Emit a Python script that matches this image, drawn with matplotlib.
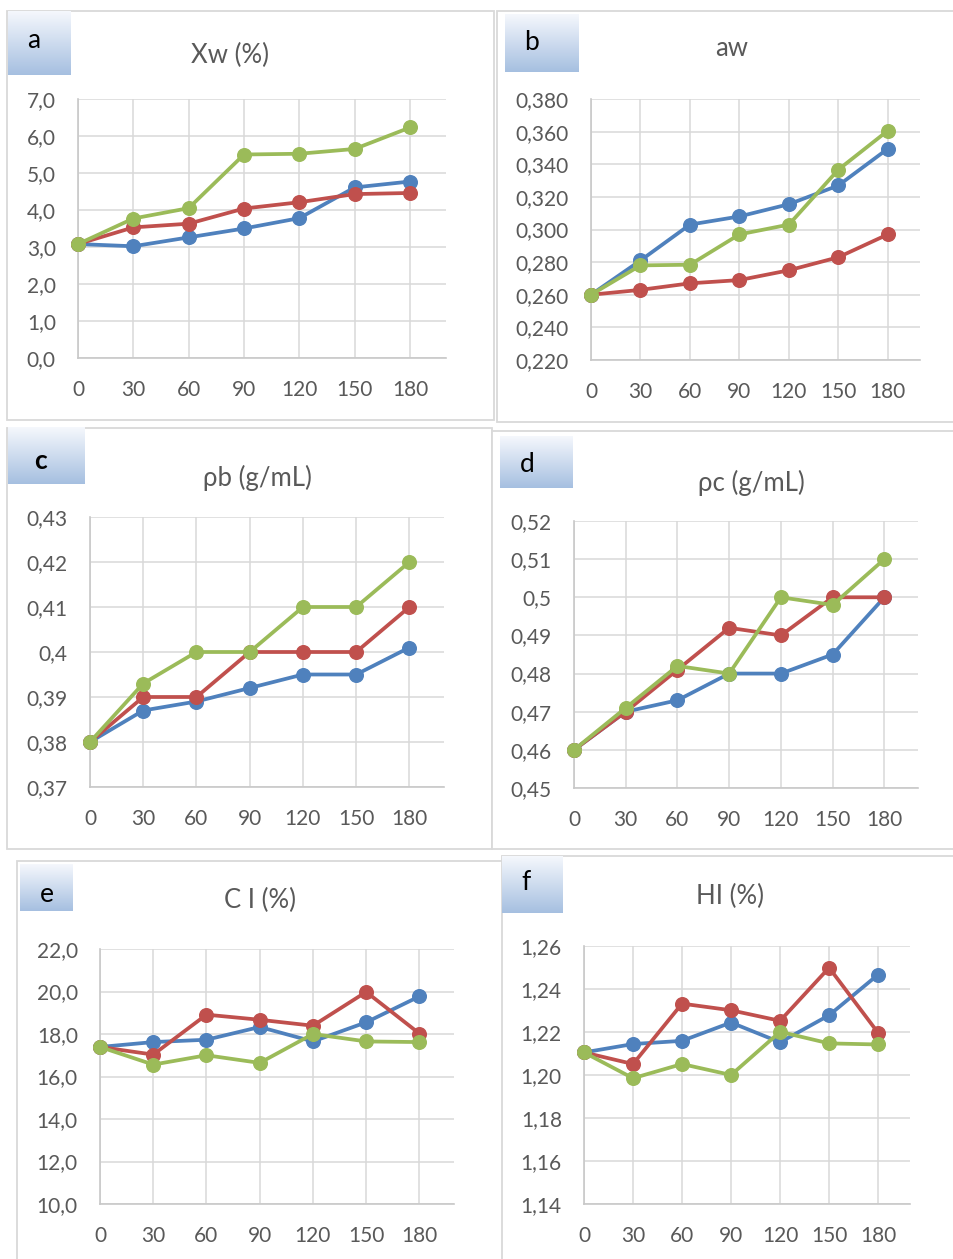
import numpy as np
import matplotlib
matplotlib.use("Agg")
import matplotlib.pyplot as plt
from matplotlib.patches import Rectangle

plt.rcParams["font.family"] = ["Lato", "DejaVu Sans"]

# ====== data ======
times = ["0", "30", "60", "90", "120", "150", "180"]

xw_blue = [3.08, 3.02, 3.26, 3.50, 3.78, 4.61, 4.77]
xw_red = [3.08, 3.53, 3.63, 4.04, 4.21, 4.43, 4.46]
xw_green = [3.08, 3.77, 4.05, 5.50, 5.52, 5.65, 6.23]

aw_blue = [0.260, 0.281, 0.303, 0.308, 0.3155, 0.327, 0.3495]
aw_red = [0.260, 0.263, 0.267, 0.269, 0.275, 0.283, 0.297]
aw_green = [0.260, 0.278, 0.2784, 0.297, 0.303, 0.3367, 0.3606]

pb_blue = [0.380, 0.387, 0.389, 0.392, 0.395, 0.395, 0.401]
pb_red = [0.380, 0.390, 0.390, 0.400, 0.400, 0.400, 0.410]
pb_green = [0.380, 0.393, 0.400, 0.400, 0.410, 0.410, 0.420]

pc_blue = [0.460, 0.470, 0.473, 0.480, 0.480, 0.485, 0.500]
pc_red = [0.460, 0.470, 0.481, 0.492, 0.490, 0.500, 0.500]
pc_green = [0.460, 0.471, 0.482, 0.480, 0.500, 0.498, 0.510]

ci_blue = [17.39, 17.62, 17.73, 18.33, 17.65, 18.55, 19.77]
ci_red = [17.39, 17.03, 18.91, 18.67, 18.39, 19.98, 18.02]
ci_green = [17.39, 16.56, 17.00, 16.64, 18.00, 17.65, 17.62]

hi_blue = [1.2105, 1.2144, 1.2159, 1.2244, 1.2152, 1.2278, 1.2467]
hi_red = [1.2105, 1.2051, 1.2332, 1.2301, 1.2252, 1.2499, 1.2196]
hi_green = [1.2105, 1.1985, 1.2051, 1.2000, 1.2201, 1.2147, 1.2142]

# y ticks + labels (comma decimals as in the original)
xw_ticks = [0, 1, 2, 3, 4, 5, 6, 7]
xw_labels = ["0,0", "1,0", "2,0", "3,0", "4,0", "5,0", "6,0", "7,0"]
aw_ticks = [0.22, 0.24, 0.26, 0.28, 0.30, 0.32, 0.34, 0.36, 0.38]
aw_labels = ["0,220", "0,240", "0,260", "0,280", "0,300", "0,320", "0,340", "0,360", "0,380"]
pb_ticks = [0.37, 0.38, 0.39, 0.40, 0.41, 0.42, 0.43]
pb_labels = ["0,37", "0,38", "0,39", "0,4", "0,41", "0,42", "0,43"]
pc_ticks = [0.45, 0.46, 0.47, 0.48, 0.49, 0.50, 0.51, 0.52]
pc_labels = ["0,45", "0,46", "0,47", "0,48", "0,49", "0,5", "0,51", "0,52"]
ci_ticks = [10, 12, 14, 16, 18, 20, 22]
ci_labels = ["10,0", "12,0", "14,0", "16,0", "18,0", "20,0", "22,0"]
hi_ticks = [1.14, 1.16, 1.18, 1.20, 1.22, 1.24, 1.26]
hi_labels = ["1,14", "1,16", "1,18", "1,20", "1,22", "1,24", "1,26"]

BLUE = "#4f81bd"
RED = "#c0504d"
GREEN = "#9bbb59"
TXT = "#595959"

W, H = 954, 1259
fig = plt.figure(figsize=(W / 100, H / 100), dpi=100)


def fbox(left, top, right, bottom):
    # pixel box -> figure fraction [l, b, w, h]
    return [left / W, 1 - bottom / H, (right - left) / W, (bottom - top) / H]


def frame(left, top, right, bottom):
    l, b, w, h = fbox(left, top, right, bottom)
    fig.patches.append(Rectangle((l, b), w, h, transform=fig.transFigure,
                                 facecolor="white", edgecolor="#d9d9d9",
                                 lw=1.3, zorder=-1))


def label_box(left, top, right, bottom, letter, tx, ty, bold=False):
    ax = fig.add_axes(fbox(left, top, right, bottom))
    grad = np.linspace(0, 1, 64).reshape(-1, 1)
    top_c = np.array([0.96, 0.97, 0.99])
    bot_c = np.array([0.65, 0.75, 0.88])
    img = top_c + grad[..., None] * (bot_c - top_c)
    img = np.repeat(img, 4, axis=1)
    ax.imshow(img, aspect="auto", extent=[0, 1, 0, 1], origin="upper")
    ax.set_axis_off()
    fig.text(tx / W, 1 - ty / H, letter, fontsize=19, color="black",
             ha="center", va="center", fontweight="bold" if bold else "normal")


def panel(box, series, ticks, labels, title, tpos):
    ax = fig.add_axes(fbox(*box))
    ax.set_zorder(2)
    x = np.arange(len(times))
    for vals, col in series:
        ax.plot(x, vals, color=col, lw=2.7, marker="o", ms=9.8,
                mec=col, mfc=col, clip_on=False, zorder=3)
    ax.set_xlim(0, 6.65)
    ax.set_ylim(ticks[0], ticks[-1])
    ax.set_xticks(x)
    ax.set_xticklabels(times)
    ax.set_yticks(ticks)
    ax.set_yticklabels(labels)
    ax.grid(True, color="#d9d9d9", lw=1.1)
    ax.set_axisbelow(True)
    for s in ["top", "right"]:
        ax.spines[s].set_visible(False)
    for s in ["left", "bottom"]:
        ax.spines[s].set_color("#c8c8c8")
        ax.spines[s].set_linewidth(1.2)
    ax.tick_params(length=0, labelsize=15, labelcolor=TXT, pad=16)
    ax.patch.set_alpha(0)
    fig.text(tpos[0] / W, 1 - tpos[1] / H, title, fontsize=18.5, color=TXT,
             ha="center", va="center")
    return ax


# frames of the six chart boxes
frame(7, 11, 494, 420)
frame(497, 11, 962, 422)
frame(7, 428, 492, 849)
frame(492, 431, 962, 849)
frame(17, 861, 505, 1270)
frame(502, 856, 962, 1270)

panel((78, 99, 446, 358), [(xw_blue, BLUE), (xw_red, RED), (xw_green, GREEN)],
      xw_ticks, xw_labels, "Xw (%)", (230, 55))
panel((591, 99, 920, 360), [(aw_blue, BLUE), (aw_red, RED), (aw_green, GREEN)],
      aw_ticks, aw_labels, "aw", (732, 49))
panel((90, 517, 444, 787), [(pb_blue, BLUE), (pb_red, RED), (pb_green, GREEN)],
      pb_ticks, pb_labels, "ρb (g/mL)", (257, 478))
panel((574, 521, 918, 788), [(pc_blue, BLUE), (pc_red, RED), (pc_green, GREEN)],
      pc_ticks, pc_labels, "ρc (g/mL)", (751, 483))
panel((100, 949, 454, 1204), [(ci_blue, BLUE), (ci_red, RED), (ci_green, GREEN)],
      ci_ticks, ci_labels, "C I (%)", (260, 900))
panel((584, 946, 910, 1204), [(hi_blue, BLUE), (hi_red, RED), (hi_green, GREEN)],
      hi_ticks, hi_labels, "HI (%)", (730, 896))

label_box(8, 11, 71, 75, "a", 34, 40)
label_box(505, 14, 578, 72, "b", 532, 43)
label_box(8, 427, 85, 484, "c", 41, 461, bold=True)
label_box(500, 436, 573, 488, "d", 527, 464)
label_box(20, 864, 73, 911, "e", 47, 895)
label_box(502, 856, 563, 913, "f", 526, 883)

fig.savefig("out.png", dpi=100, facecolor="white")
